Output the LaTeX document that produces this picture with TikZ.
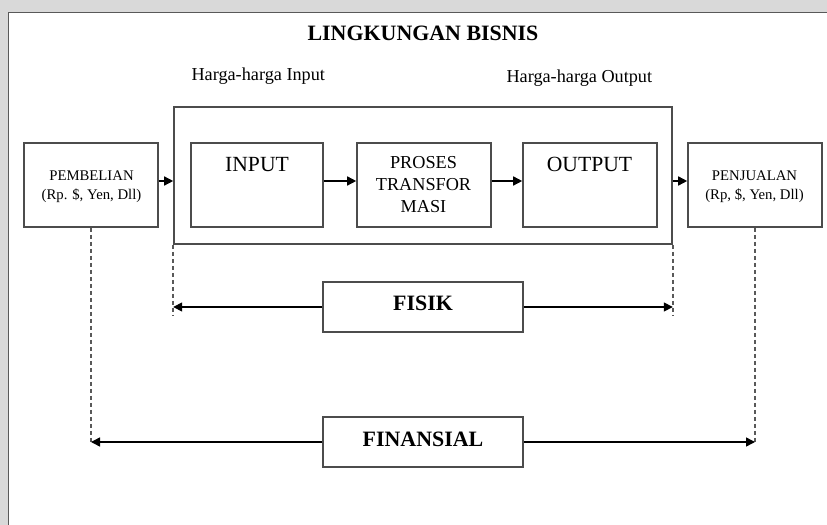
\documentclass[tikz,border=0pt]{standalone}
\usepackage{fontspec}
\setmainfont{Liberation Serif}
\usetikzlibrary{arrows.meta}

\tikzset{
  box/.style={draw=black!70, line width=1.6bp, inner sep=0pt},
  flow/.style={draw=black, line width=1.5bp, -{Triangle[length=9bp,width=9bp]}},
  guide/.style={draw=black!65, line width=1.6bp, dash pattern=on 4bp off 3bp},
  heading/.style={font=\fontsize{22}{24}\selectfont\bfseries},
  bigtext/.style={font=\fontsize{21.7}{24}\selectfont},
  midtext/.style={font=\fontsize{18.3}{22}\selectfont, align=center},
  smalltext/.style={font=\fontsize{14.8}{18.5}\selectfont, align=center},
}

\begin{document}
\begin{tikzpicture}[x=1bp, y=-1bp]
\useasboundingbox (0,0) rectangle (827,525);

% page margin and frame
\fill[black!15] (0,0) rectangle (827,12.5);
\fill[black!15] (0,0) rectangle (8.5,525);
\fill[white] (8.5,12.5) rectangle (827,525);
\draw[black!65, line width=1.6bp] (8.5,525) -- (8.5,12.5) -- (827,12.5);

% headings
\node[heading, anchor=base] (title) at (423,40.5) {LINGKUNGAN BISNIS};
\node[midtext, anchor=base west] (hin) at (188,81) {Harga-harga Input};
\node[midtext, anchor=base west] (hout) at (503,83) {Harga-harga Output};

% enclosing operations box
\node[box, minimum width=498bp, minimum height=137bp] (ops) at (423,175.5) {};

% main row
\node[box, minimum width=134bp, minimum height=84bp] (pemb) at (91,185) {};
\node[smalltext] (pembtxt) at (91.5,186.5) {PEMBELIAN\\(Rp. \$, Yen, Dll)};

\node[box, minimum width=132bp, minimum height=84bp] (input) at (257,185) {};
\node[bigtext, anchor=base] (inputtxt) at (257,172) {INPUT};

\node[box, minimum width=134bp, minimum height=84bp] (proses) at (424,185) {};
\node[midtext] (prosestxt) at (423.5,184.5) {PROSES\\TRANSFOR\\MASI};

\node[box, minimum width=134bp, minimum height=84bp] (output) at (590,185) {};
\node[bigtext, anchor=base] (outputtxt) at (589.5,172) {OUTPUT};

\node[box, minimum width=134bp, minimum height=84bp] (penj) at (755,185) {};
\node[smalltext] (penjtxt) at (754.5,186.5) {PENJUALAN\\(Rp, \$, Yen, Dll)};

% flow arrows
\draw[flow] (pemb.east |- 0,181) -- (ops.west |- 0,181);
\draw[flow] (input.east |- 0,181) -- (proses.west |- 0,181);
\draw[flow] (proses.east |- 0,181) -- (output.west |- 0,181);
\draw[flow] (ops.east |- 0,181) -- (penj.west |- 0,181);

% physical and financial spans
\node[box, minimum width=200bp, minimum height=50bp, heading, text depth=7bp] (fisik) at (423,307) {FISIK};
\node[box, minimum width=200bp, minimum height=50bp, heading, text depth=6bp] (fin) at (423,442) {FINANSIAL};

\coordinate (fl) at (ops.south west |- fisik.west);
\coordinate (fr) at (ops.south east |- fisik.east);
\coordinate (nl) at (pemb.south |- fin.west);
\coordinate (nr) at (penj.south |- fin.east);

\draw[guide] (ops.south west) -- ([yshift=-8bp]fl);
\draw[guide] (ops.south east) -- ([yshift=-8bp]fr);
\draw[guide] (pemb.south) -- (nl);
\draw[guide] (penj.south) -- (nr);

\draw[flow] (fisik.west) -- (fl);
\draw[flow] (fisik.east) -- (fr);
\draw[flow] (fin.west) -- (nl);
\draw[flow] (fin.east) -- (nr);
\end{tikzpicture}
\end{document}
